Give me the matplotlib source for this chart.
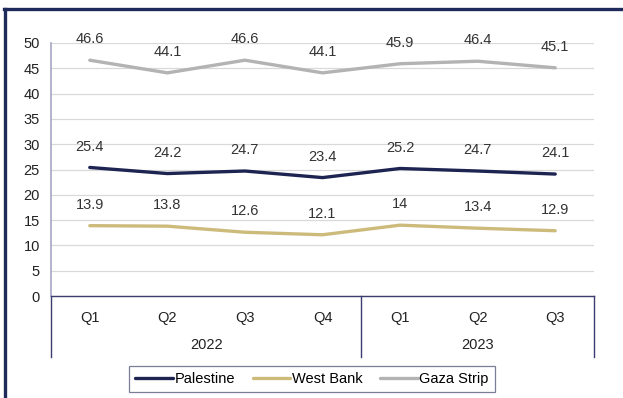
import matplotlib
matplotlib.use("Agg")
import matplotlib.pyplot as plt
from matplotlib.lines import Line2D

plt.rcParams['font.family'] = ['Liberation Sans', 'DejaVu Sans']

quarters = ["Q1", "Q2", "Q3", "Q4", "Q1", "Q2", "Q3"]
years = ["2022", "2023"]
year_spans = [4, 3]
palestine = [25.4, 24.2, 24.7, 23.4, 25.2, 24.7, 24.1]
west_bank = [13.9, 13.8, 12.6, 12.1, 14, 13.4, 12.9]
gaza = [46.6, 44.1, 46.6, 44.1, 45.9, 46.4, 45.1]
yticks = [0, 5, 10, 15, 20, 25, 30, 35, 40, 45, 50]

series = [("Palestine", palestine, "#1e2452"),
          ("West Bank", west_bank, "#cdbb7c"),
          ("Gaza Strip", gaza, "#b3b3b3")]

FS = 10.5

fig = plt.figure(figsize=(6.23, 3.98), dpi=100)
ax = fig.add_axes([51/623, 1-296/398, (594-51)/623, (296-43)/398])

x = list(range(len(quarters)))
handles = []
for name, vals, col in series:
    h, = ax.plot(x, vals, color=col, lw=2.4, solid_capstyle='round', label=name)
    handles.append(h)
    for xi, v in zip(x, vals):
        ax.annotate(f"{v:g}", (xi, v), xytext=(0, 15), textcoords='offset points',
                    ha='center', va='center', fontsize=FS, color='#333333',
                    annotation_clip=False)

ax.set_xlim(-0.5, len(quarters) - 0.5)
ax.set_ylim(0, 50)
ax.set_yticks(yticks)
ax.set_yticklabels([str(t) for t in yticks])
ax.tick_params(axis='y', length=0, pad=8, labelsize=FS, labelcolor='#222222')
ax.set_xticks([])
ax.grid(axis='y', color='#d9d9d9', lw=0.9)
ax.set_axisbelow(True)
for s in ['top', 'right']:
    ax.spines[s].set_visible(False)
ax.spines['left'].set_color('#a6a6c4')
ax.spines['left'].set_linewidth(1.2)
ax.spines['bottom'].set_color('#3a3d6e')
ax.spines['bottom'].set_linewidth(1.0)

# category labels
for xi, q in zip(x, quarters):
    ax.text(xi, -0.087, q, transform=ax.get_xaxis_transform(), ha='center', va='center',
            fontsize=FS, color='#222222')
start = 0
bounds = [-0.5]
for yr, span in zip(years, year_spans):
    ax.text(start + (span - 1) / 2, -0.194, yr, transform=ax.get_xaxis_transform(),
            ha='center', va='center', fontsize=FS, color='#222222')
    start += span
    bounds.append(start - 0.5)
for b in bounds:
    ax.plot([b, b], [0, -0.24], transform=ax.get_xaxis_transform(), color='#3a3d6e',
            lw=1.0, clip_on=False)

leg = fig.legend(handles=handles, loc='center', bbox_to_anchor=(312/623, 1-379/398),
                 ncol=3, frameon=True, fancybox=False, fontsize=FS, handlelength=2.6,
                 handletextpad=0.1, columnspacing=1.2, borderpad=0.4)
leg.get_frame().set_edgecolor('#5a5d80')
leg.get_frame().set_linewidth(0.9)

# outer frame (top and left)
fig.add_artist(Line2D([4/623, 1], [1-9/398, 1-9/398], color='#1e2a5a', lw=2.4))
fig.add_artist(Line2D([5/623, 5/623], [0, 1-9/398], color='#1e2a5a', lw=2.4))

fig.savefig("out.png", dpi=100)
